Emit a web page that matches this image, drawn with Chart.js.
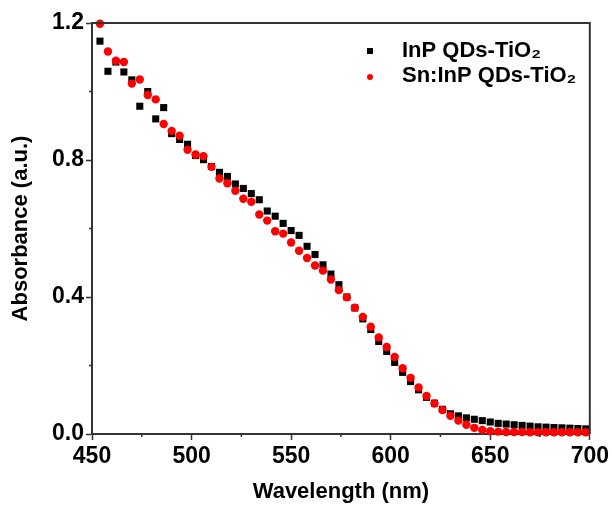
<!DOCTYPE html>
<html>
<head>
<meta charset="utf-8">
<script src="https://cdn.jsdelivr.net/npm/chart.js@4.4.0/dist/chart.umd.min.js"></script>
<style>
    html, body { margin: 0; padding: 0; background: #fff; }
</style>
</head>
<body>
<canvas id="absChart" width="612" height="506"></canvas>
<script>
// wavelength grid of the spectra (nm)
const wavelengths = [
    454, 458, 462, 466, 470, 474, 478, 482, 486, 490, 494, 498,
    502, 506, 510, 514, 518, 522, 526, 530, 534, 538, 542, 546,
    550, 554, 558, 562, 566, 570, 574, 578, 582, 586, 590, 594,
    598, 602, 606, 610, 614, 618, 622, 626, 630, 634, 638, 642,
    646, 650, 654, 658, 662, 666, 670, 674, 678, 682, 686, 690,
    694, 698
];

// InP QDs-TiO2 (black squares)
const inpAbs = [
    1.147, 1.059, 1.086, 1.057, 1.034, 0.957, 1.000, 0.920, 0.953, 0.877, 0.860, 0.846,
    0.813, 0.801, 0.781, 0.764, 0.752, 0.730, 0.717, 0.702, 0.684, 0.651, 0.636, 0.615,
    0.594, 0.580, 0.548, 0.524, 0.494, 0.467, 0.436, 0.400, 0.368, 0.336, 0.305, 0.270,
    0.241, 0.209, 0.180, 0.153, 0.129, 0.107, 0.090, 0.072, 0.059, 0.053, 0.047, 0.043,
    0.039, 0.035, 0.031, 0.029, 0.027, 0.025, 0.023, 0.021, 0.020, 0.019, 0.018, 0.017,
    0.016, 0.015
];

// Sn:InP QDs-TiO2 (red circles)
const snInpAbs = [
    1.198, 1.117, 1.090, 1.086, 1.023, 1.035, 0.990, 0.977, 0.905, 0.885, 0.871, 0.830,
    0.816, 0.811, 0.780, 0.746, 0.732, 0.710, 0.687, 0.678, 0.641, 0.623, 0.592, 0.585,
    0.559, 0.535, 0.514, 0.492, 0.477, 0.451, 0.420, 0.399, 0.369, 0.342, 0.313, 0.282,
    0.254, 0.225, 0.192, 0.164, 0.136, 0.111, 0.089, 0.070, 0.053, 0.039, 0.027, 0.018,
    0.012, 0.008, 0.007, 0.006, 0.006, 0.006, 0.005, 0.005, 0.005, 0.005, 0.005, 0.005,
    0.005, 0.005
];

const seriesNames = ['InP QDs-TiO\u2082', 'Sn:InP QDs-TiO\u2082'];
const xTickLabels = [450, 500, 550, 600, 650, 700];
const yTickLabels = [0.0, 0.4, 0.8, 1.2];

const FONT = "'Liberation Sans', Arial, sans-serif";
const AXIS = '#333';

const toPoints = ys => wavelengths.map((x, i) => ({ x: x, y: ys[i] }));
const isMajor = (list, v) => list.some(t => Math.abs(t - v) < 1e-6);

// top/right frame, short minor ticks and the in-plot legend
const decorations = {
    id: 'decorations',
    afterDraw(chart) {
        const ctx = chart.ctx;
        const area = chart.chartArea;
        ctx.save();
        ctx.strokeStyle = AXIS;
        ctx.lineWidth = 2;
        ctx.beginPath();
        ctx.moveTo(area.left, area.top);
        ctx.lineTo(area.right, area.top);
        ctx.lineTo(area.right, area.bottom);
        ctx.stroke();

        // minor ticks
        ctx.lineWidth = 1.5;
        const xs = chart.scales.x;
        xs.ticks.forEach(t => {
            if (isMajor(xTickLabels, t.value)) return;
            const px = xs.getPixelForValue(t.value);
            ctx.beginPath();
            ctx.moveTo(px, area.bottom);
            ctx.lineTo(px, area.bottom + 3);
            ctx.stroke();
        });
        const ys = chart.scales.y;
        ys.ticks.forEach(t => {
            if (isMajor(yTickLabels, t.value)) return;
            const py = ys.getPixelForValue(t.value);
            ctx.beginPath();
            ctx.moveTo(area.left, py);
            ctx.lineTo(area.left - 3, py);
            ctx.stroke();
        });

        // legend
        ctx.font = 'bold 22px ' + FONT;
        ctx.textBaseline = 'middle';
        ctx.fillStyle = '#000';
        ctx.fillRect(367, 48, 6, 6);
        ctx.fillText(seriesNames[0], 402, 51);
        ctx.fillStyle = '#ff0000';
        ctx.beginPath();
        ctx.arc(370, 77, 3, 0, Math.PI * 2);
        ctx.fill();
        ctx.fillStyle = '#000';
        ctx.fillText(seriesNames[1], 402, 76);
        ctx.restore();
    }
};

new Chart(document.getElementById('absChart'), {
    type: 'scatter',
    data: {
        datasets: [{
            label: seriesNames[0],
            data: toPoints(inpAbs),
            pointStyle: 'rect',
            pointRadius: 5,
            pointBackgroundColor: '#000',
            pointBorderWidth: 0,
            order: 2,
            clip: false
        }, {
            label: seriesNames[1],
            data: toPoints(snInpAbs),
            pointStyle: 'circle',
            pointRadius: 4.2,
            pointBackgroundColor: '#ff0000',
            pointBorderWidth: 0,
            order: 1,
            clip: false
        }]
    },
    options: {
        responsive: false,
        animation: false,
        devicePixelRatio: 1,
        layout: {
            padding: { top: 23, right: 20, left: 0, bottom: 0 }
        },
        plugins: {
            legend: { display: false },
            tooltip: { enabled: false }
        },
        scales: {
            x: {
                type: 'linear',
                min: 450,
                max: 700,
                afterFit: scale => { scale.height = 72; },
                ticks: {
                    stepSize: 25,
                    autoSkip: false,
                    maxRotation: 0,
                    padding: 3,
                    color: '#000',
                    font: { family: FONT, size: 23, weight: 'bold' },
                    callback: v => isMajor(xTickLabels, v) ? String(v) : ''
                },
                grid: {
                    drawOnChartArea: false,
                    drawTicks: true,
                    tickLength: 6,
                    tickWidth: 1.5,
                    tickColor: c => isMajor(xTickLabels, c.tick.value) ? AXIS : 'rgba(0,0,0,0)'
                },
                border: { display: true, color: AXIS, width: 2 },
                title: {
                    display: true,
                    text: 'Wavelength (nm)',
                    color: '#000',
                    font: { family: FONT, size: 22, weight: 'bold' },
                    padding: { top: 0, bottom: 1 }
                }
            },
            y: {
                min: 0,
                max: 1.2,
                afterFit: scale => { scale.width = 92; },
                ticks: {
                    stepSize: 0.2,
                    autoSkip: false,
                    padding: 2,
                    color: '#000',
                    font: { family: FONT, size: 23, weight: 'bold' },
                    callback: v => isMajor(yTickLabels, v) ? v.toFixed(1) : ''
                },
                grid: {
                    drawOnChartArea: false,
                    drawTicks: true,
                    tickLength: 6,
                    tickWidth: 1.5,
                    tickColor: c => isMajor(yTickLabels, c.tick.value) ? AXIS : 'rgba(0,0,0,0)'
                },
                border: { display: true, color: AXIS, width: 2 },
                title: {
                    display: true,
                    text: 'Absorbance (a.u.)',
                    color: '#000',
                    font: { family: FONT, size: 22, weight: 'bold' },
                    padding: { top: 8, bottom: 0 }
                }
            }
        }
    },
    plugins: [decorations]
});
</script>
</body>
</html>
